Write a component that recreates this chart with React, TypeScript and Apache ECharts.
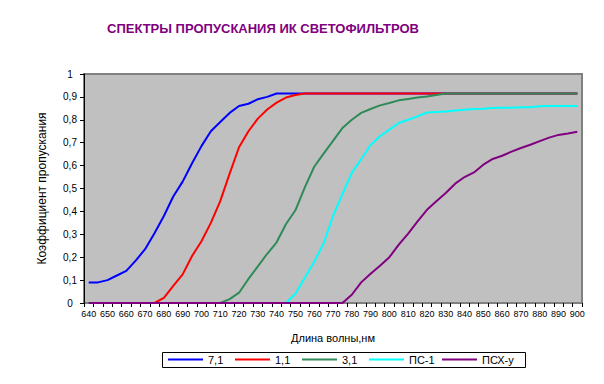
import React, { useEffect, useRef } from 'react';
import * as echarts from 'echarts';

const wavelengths = [
  '640', '645', '650', '655', '660', '665', '670', '675', '680', '685',
  '690', '695', '700', '705', '710', '715', '720', '725', '730', '735',
  '740', '745', '750', '755', '760', '765', '770', '775', '780', '785',
  '790', '795', '800', '805', '810', '815', '820', '825', '830', '835',
  '840', '845', '850', '855', '860', '865', '870', '875', '880', '885',
  '890', '895', '900',
];

const seriesNames = ['7,1', '1,1', '3,1', 'ПС-1', 'ПСХ-у'];
const seriesColors = ['#0000FF', '#FF0000', '#2E8B57', '#00FFFF', '#800080'];

const f71 = [
  0.09, 0.09, 0.10, 0.12, 0.14, 0.185, 0.235, 0.305, 0.38, 0.465,
  0.53, 0.61, 0.685, 0.75, 0.79, 0.83, 0.86, 0.87, 0.89, 0.90,
  0.915, 0.915, 0.915, 0.915, 0.915, 0.915, 0.915, 0.915, 0.915, 0.915,
  0.915, 0.915, 0.915, 0.915, 0.915, 0.915, 0.915, 0.915, 0.915, 0.915,
  0.915, 0.915, 0.915, 0.915, 0.915, 0.915, 0.915, 0.915, 0.915, 0.915,
  0.915, 0.915, 0.915,
];

const f11 = [
  0, 0, 0, 0, 0, 0, 0, 0, 0.022, 0.075,
  0.125, 0.205, 0.27, 0.35, 0.445, 0.565, 0.68, 0.75, 0.805, 0.845,
  0.875, 0.897, 0.908, 0.915, 0.915, 0.915, 0.915, 0.915, 0.915, 0.915,
  0.915, 0.915, 0.915, 0.915, 0.915, 0.915, 0.915, 0.915, 0.915, 0.915,
  0.915, 0.915, 0.915, 0.915, 0.915, 0.915, 0.915, 0.915, 0.915, 0.915,
  0.915, 0.915, 0.915,
];

const f31 = [
  0, 0, 0, 0, 0, 0, 0, 0, 0, 0,
  0, 0, 0, 0, 0, 0.017, 0.045, 0.105, 0.16, 0.215,
  0.265, 0.345, 0.405, 0.505, 0.595, 0.652, 0.708, 0.764, 0.80, 0.83,
  0.847, 0.863, 0.873, 0.885, 0.891, 0.897, 0.902, 0.908, 0.915, 0.915,
  0.915, 0.915, 0.915, 0.915, 0.915, 0.915, 0.915, 0.915, 0.915, 0.915,
  0.915, 0.915, 0.915,
];

const fPS1 = [
  0, 0, 0, 0, 0, 0, 0, 0, 0, 0,
  0, 0, 0, 0, 0, 0, 0, 0, 0, 0,
  0, 0, 0.04, 0.11, 0.18, 0.26, 0.38, 0.475, 0.568, 0.628,
  0.69, 0.728, 0.757, 0.786, 0.80, 0.815, 0.832, 0.834, 0.836, 0.841,
  0.844, 0.847, 0.848, 0.851, 0.853, 0.853, 0.855, 0.855, 0.859, 0.86,
  0.86, 0.86, 0.86,
];

const fPSXu = [
  0, 0, 0, 0, 0, 0, 0, 0, 0, 0,
  0, 0, 0, 0, 0, 0, 0, 0, 0, 0,
  0, 0, 0, 0, 0, 0, 0, 0, 0.036, 0.09,
  0.128, 0.163, 0.20, 0.255, 0.303, 0.356, 0.407, 0.444, 0.48, 0.521,
  0.55, 0.57, 0.604, 0.629, 0.643, 0.661, 0.677, 0.691, 0.707, 0.722,
  0.734, 0.74, 0.748,
];

const yTickLabels = ['0', '0,1', '0,2', '0,3', '0,4', '0,5', '0,6', '0,7', '0,8', '0,9', '1'];

const titleText = 'СПЕКТРЫ ПРОПУСКАНИЯ ИК СВЕТОФИЛЬТРОВ';
const xAxisName = 'Длина волны,нм';
const yAxisName = 'Коэффициент пропускания';

const FONT = 'Arial, "Liberation Sans", sans-serif';

export default function App() {
  const ref = useRef<HTMLDivElement>(null);

  useEffect(() => {
    if (!ref.current) return;
    const chart = echarts.init(ref.current, null, { renderer: 'svg' });
    const allData = [f71, f11, f31, fPS1, fPSXu];
    const legendLefts = [168, 235, 302, 369, 442];

    chart.setOption({
      animation: false,
      backgroundColor: '#FFFFFF',
      textStyle: { fontFamily: FONT },
      grid: {
        left: 84,
        top: 74,
        width: 498,
        height: 229,
        show: true,
        backgroundColor: '#C0C0C0',
        borderColor: '#808080',
        borderWidth: 2,
      },
      graphic: [
        {
          type: 'text',
          x: 263,
          y: 28,
          style: {
            text: titleText,
            fill: '#800080',
            font: 'bold 13px ' + FONT,
            textAlign: 'center',
            textVerticalAlign: 'middle',
          },
        },
        {
          type: 'rect',
          z: 0,
          shape: { x: 162.5, y: 352.5, width: 363, height: 15 },
          style: { fill: '#FFFFFF', stroke: '#000000', lineWidth: 1 },
        },
      ],
      legend: seriesNames.map((n, i) => ({
        data: [n],
        left: legendLefts[i],
        top: 354,
        padding: 0,
        itemWidth: 35,
        itemHeight: 2,
        icon: 'rect',
        z: 5,
        textStyle: { fontSize: 11, color: '#000', fontFamily: FONT },
      })),
      xAxis: {
        type: 'category',
        data: wavelengths,
        boundaryGap: true,
        name: xAxisName,
        nameLocation: 'middle',
        nameGap: 29,
        nameTextStyle: { fontSize: 11, color: '#000', fontFamily: FONT },
        axisLine: { show: true, lineStyle: { color: '#808080', width: 1 } },
        axisTick: { show: true, interval: 0, length: 4, lineStyle: { color: '#000' } },
        axisLabel: { interval: 1, fontSize: 9, color: '#000', margin: 6, fontFamily: FONT },
        splitLine: { show: false },
      },
      yAxis: {
        type: 'value',
        min: 0,
        max: 1,
        interval: 0.1,
        name: yAxisName,
        nameLocation: 'middle',
        nameGap: 36,
        nameRotate: 90,
        nameTextStyle: { fontSize: 12, color: '#000', fontFamily: FONT },
        axisLine: { show: true, lineStyle: { color: '#000', width: 1 } },
        axisTick: { show: true, length: 4, lineStyle: { color: '#000' } },
        axisLabel: {
          fontSize: 10,
          color: '#000',
          align: 'center',
          margin: 14,
          fontFamily: FONT,
          formatter: (v: number) => yTickLabels[Math.round(v * 10)],
        },
        splitLine: { show: false },
      },
      series: seriesNames.map((n, i) => ({
        name: n,
        type: 'line',
        data: allData[i],
        symbol: 'none',
        showSymbol: false,
        color: seriesColors[i],
        lineStyle: { color: seriesColors[i], width: 2 },
        z: 2 + i,
      })),
    });

    return () => chart.dispose();
  }, []);

  return (
    <div
      ref={ref}
      style={{ position: 'fixed', left: 0, top: 0, width: 604, height: 384 }}
    />
  );
}
